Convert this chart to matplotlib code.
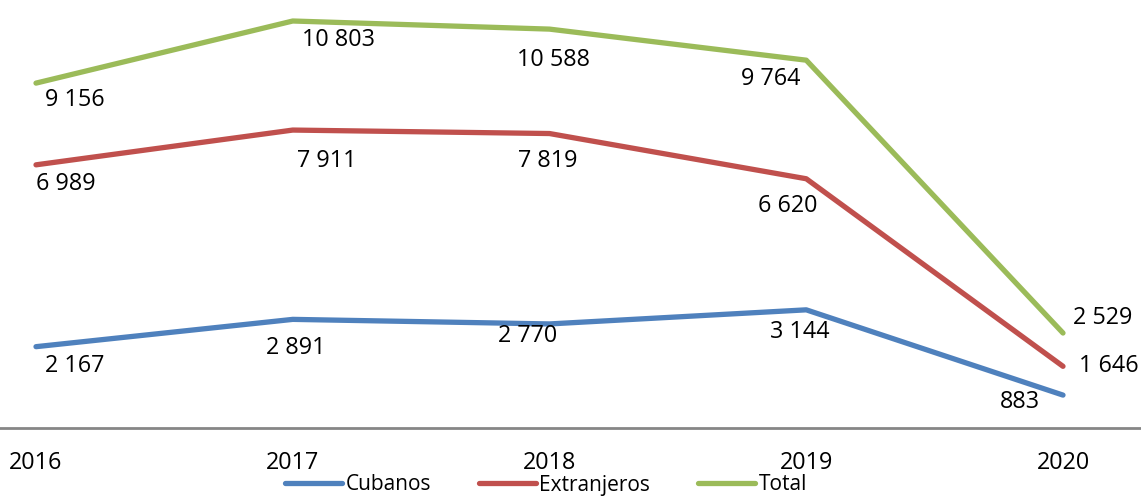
import matplotlib.pyplot as plt

years = [2016, 2017, 2018, 2019, 2020]
cubanos = [2167, 2891, 2770, 3144, 883]
extranjeros = [6989, 7911, 7819, 6620, 1646]
total = [9156, 10803, 10588, 9764, 2529]

# label offsets in pixels (dx, dy) for each point
off_cub = [(39, -19), (3, -29), (-22, -12), (-6, -22), (-43, -7)]
off_ext = [(30, -19), (34, -31), (-2, -27), (-19, -27), (46, 0)]
off_tot = [(39, -17), (46, -19), (4, -31), (-36, -19), (40, 15)]

plt.rcParams['font.family'] = ['Open Sans', 'DejaVu Sans']


def fmt(v):
    return '{:,}'.format(v).replace(',', ' ')


fig = plt.figure(figsize=(11.41, 4.96), dpi=100)
ax = fig.add_axes([0, 0.1363, 1, 0.8637])

series = [
    ('Cubanos', cubanos, '#4F81BD', off_cub),
    ('Extranjeros', extranjeros, '#C0504D', off_ext),
    ('Total', total, '#9BBB59', off_tot),
]
for name, vals, col, offs in series:
    ax.plot(years, vals, color=col, lw=3.8, label=name, solid_capstyle='round',
            clip_on=False)
    for x, v, (dx, dy) in zip(years, vals, offs):
        ax.annotate(fmt(v), (x, v), xytext=(dx, dy), textcoords='offset pixels',
                    ha='center', va='center', fontsize=16.8, color='black')

ax.set_xlim(2016 - 36 / 256.75, 2020 + 78 / 256.75)
ax.set_ylim(0, 11360)
for s in ['top', 'right', 'left']:
    ax.spines[s].set_visible(False)
ax.spines['bottom'].set_color('#868686')
ax.spines['bottom'].set_linewidth(2)
ax.set_yticks([])
ax.set_xticks(years)
ax.set_xticklabels([str(y) for y in years], fontsize=16.8)
ax.tick_params(axis='x', length=0, pad=16)

fig.legend(loc='center', bbox_to_anchor=(546 / 1141, 1 - 485 / 496), ncol=3,
           frameon=False, fontsize=15, handlelength=2.75, handletextpad=0.15,
           columnspacing=2.3, borderpad=0)

fig.savefig('out.png', dpi=100)
